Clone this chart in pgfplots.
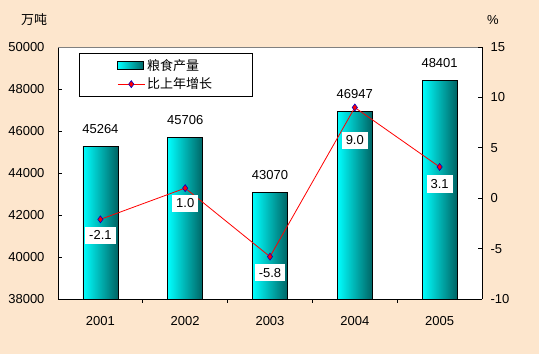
\documentclass[border=0pt]{standalone}
\usepackage{pgfplots}
\pgfplotsset{compat=1.18}
\usepackage{fontspec}
\setmainfont{Liberation Sans}
\newfontfamily\cjk{Noto Sans CJK SC}
\definecolor{bgc}{RGB}{253,230,205}
\definecolor{barL}{RGB}{0,255,255}
\definecolor{barR}{RGB}{0,100,100}
\definecolor{mkb}{RGB}{0,0,200}
\pgfplotsset{mylineleg/.style={legend image code/.code={\draw[mark repeat=2,mark phase=2,##1] plot coordinates {(0pt,0pt)(13.5pt,0pt)(27pt,0pt)};}},
  mybar/.style={draw=black, line width=0.8pt, left color=barL, right color=barR}}
\pgfplotstableread{
x y lab off
0 -2.1 -2.1 16
1 1.0 1.0 15
2 -5.8 -5.8 16
3 9.0 9.0 33
4 3.1 3.1 17
}\growth
\begin{document}
\begin{tikzpicture}[x=1pt,y=1pt,font=\fontsize{13}{15}\selectfont]
\fill[bgc] (0,0) rectangle (539,354);
\begin{axis}[
  at={(58pt,55pt)}, anchor=south west,
  scale only axis, width=424pt, height=252pt,
  xmin=-0.5, xmax=4.5, ymin=38000, ymax=50000,
  axis background/.style={fill=white},
  axis lines*=left,
  ytick={38000,40000,...,50000},
  scaled y ticks=false,
  yticklabel={\pgfmathprintnumber[fixed,precision=0,1000 sep={}]{\tick}},
  xtick={0,...,4}, xticklabels={2001,2002,2003,2004,2005},
  major x tick style={draw=none},
  minor xtick={0.5,1.5,2.5,3.5},
  tick align=inside, major tick length=3.5pt, minor tick length=3.5pt,
  tick style={black, line width=0.6pt},
  axis line style={black, line width=0.8pt},
  xticklabel style={yshift=-10pt},
  yticklabel style={xshift=-10pt},
  /pgf/number format/1000 sep={},
  /pgf/number format/assume math mode=true,
  ybar, bar width=35pt, bar shift=0pt,
  nodes near coords, point meta=explicit symbolic,
  every node near coord/.append style={yshift=9pt, text=black},
  clip=true,
]
\addplot[mybar] coordinates {(0,45264) [45264]};
\addplot[mybar] coordinates {(1,45706) [45706]};
\addplot[mybar] coordinates {(2,43070) [43070]};
\addplot[mybar] coordinates {(3,46947) [46947]};
\addplot[mybar] coordinates {(4,48401) [48401]};
\draw[gray, line width=0.8pt] (rel axis cs:0,1) -- (rel axis cs:1,1);
\end{axis}
\begin{axis}[
  at={(58pt,55pt)}, anchor=south west,
  scale only axis, width=424pt, height=252pt,
  xmin=-0.5, xmax=4.5, ymin=-10, ymax=15,
  ytick={-10,-5,...,15},
  axis y line*=right, axis x line=none,
  tick align=inside, major tick length=3.5pt,
  tick style={black, line width=0.6pt},
  axis line style={black, line width=0.8pt},
  yticklabel style={xshift=5pt},
  /pgf/number format/assume math mode=true,
  legend style={at={(0.0495,0.976)}, anchor=north west, draw=black, line width=0.8pt, fill=white,
    inner xsep=38pt, inner ysep=4pt, row sep=2pt,
    font=\cjk\fontsize{13}{15}\selectfont, nodes={inner sep=2pt}},
  legend cell align=left,
]
\addlegendimage{legend image code/.code={\path[draw=black, line width=0.8pt, left color=barL, right color=barR] (0pt,-4pt) rectangle (26pt,4pt);}}
\addlegendentry{粮食产量}
\addplot[red, line width=0.8pt, mark=diamond*, mark size=3.5pt,
  mark options={fill=red, draw=mkb, line width=0.6pt},
  mylineleg,
  nodes near coords, point meta=explicit symbolic,
  visualization depends on={\thisrow{off}\as\myoff},
  every node near coord/.append style={anchor=center, yshift=-\myoff pt, fill=white, inner sep=4pt, text=black, font=\fontsize{13}{15}\selectfont}]
  table[x=x, y=y, meta=lab] {\growth};
\addlegendentry{比上年增长}
\end{axis}
\node at (34,334) {\cjk 万吨};
\node at (493,334) {\%};
\end{tikzpicture}
\end{document}
